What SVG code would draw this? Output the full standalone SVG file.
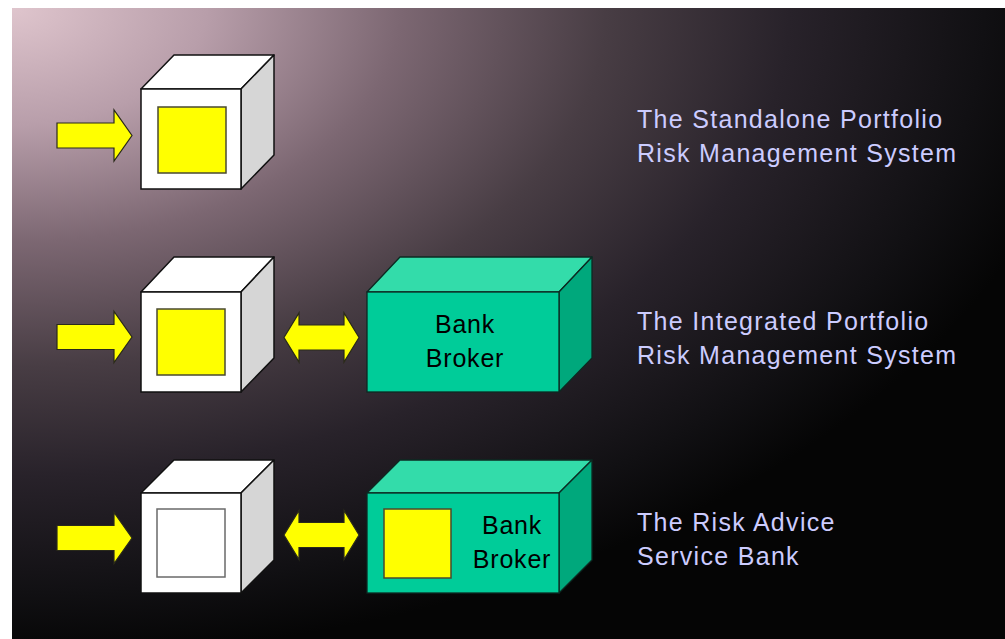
<svg xmlns="http://www.w3.org/2000/svg" width="1005" height="639" viewBox="0 0 1005 639">
  <defs>
    <radialGradient id="bgGrad" gradientUnits="userSpaceOnUse" cx="0" cy="0" r="1" fx="0" fy="0" gradientTransform="translate(12 8) scale(1080 650)">
      <stop offset="0" stop-color="#dfc5cd"/>
      <stop offset="0.18" stop-color="#b89eaa"/>
      <stop offset="0.36" stop-color="#7c6772"/>
      <stop offset="0.55" stop-color="#483d44"/>
      <stop offset="0.72" stop-color="#28222a"/>
      <stop offset="0.9" stop-color="#111013"/>
      <stop offset="1" stop-color="#050505"/>
    </radialGradient>
    <!-- single-headed input arrow, centred vertically on y=0 -->
    <path id="arrowIn" d="M57,-12.5 H114 V-25.5 L132,0 L114,25.5 V12.5 H57 Z"/>
    <!-- double-headed link arrow, centred vertically on y=0 -->
    <path id="arrowBoth" d="M284,0 L299,-24.5 V-12.5 H344 V-24.5 L359,0 L344,24.5 V12.5 H299 V24.5 Z"/>
  </defs>
  <style>
    .arrow { fill: #ffff00; stroke: #2a2a1a; stroke-width: 1.2; stroke-linejoin: miter; }
    .cube-front { fill: #ffffff; stroke: #111111; stroke-width: 1.5; }
    .cube-top { fill: #ffffff; stroke: #111111; stroke-width: 1.5; stroke-linejoin: round; }
    .cube-side { fill: #d6d6d6; stroke: #111111; stroke-width: 1.5; stroke-linejoin: round; }
    .core { fill: #ffff00; stroke: #4a4a30; stroke-width: 1.5; }
    .core-empty { fill: #ffffff; stroke: #6a6a6a; stroke-width: 1.5; }
    .box-front { fill: #00cc99; stroke: #0c2a22; stroke-width: 1.3; }
    .box-top { fill: #33dcaa; stroke: #0c2a22; stroke-width: 1.3; stroke-linejoin: round; }
    .box-side { fill: #00a87c; stroke: #0c2a22; stroke-width: 1.3; stroke-linejoin: round; }
    .box-label { font-family: "Liberation Sans", Arial, sans-serif; font-size: 25px; fill: #000000; text-anchor: middle; letter-spacing: 0.8px; }
    .caption { font-family: "Liberation Sans", Arial, sans-serif; font-size: 25px; fill: #ccccff; letter-spacing: 1.3px; }
  </style>

  <!-- backdrop -->
  <rect x="0" y="0" width="1005" height="639" fill="#ffffff"/>
  <rect x="12" y="8" width="993" height="631" fill="url(#bgGrad)"/>

  <!-- row 1: standalone system -->
  <g id="cube-standalone">
    <polygon class="cube-top" points="141,89 174,55 274,55 241,89"/>
    <polygon class="cube-side" points="241,89 274,55 274,155 241,189"/>
    <rect class="cube-front" x="141" y="89" width="100" height="100"/>
    <rect class="core" x="158" y="107" width="68" height="66"/>
  </g>

  <!-- row 2: integrated system -->
  <g id="cube-integrated">
    <polygon class="cube-top" points="141,292 174,257 274,257 241,292"/>
    <polygon class="cube-side" points="241,292 274,257 274,358 241,392"/>
    <rect class="cube-front" x="141" y="292" width="100" height="100"/>
    <rect class="core" x="157" y="309" width="68" height="66"/>
  </g>
  <g id="bank-broker-integrated">
    <polygon class="box-top" points="367,292 400,257 592,257 559,292"/>
    <polygon class="box-side" points="559,292 592,257 592,358 559,392"/>
    <rect class="box-front" x="367" y="292" width="192" height="100"/>
    <text class="box-label" x="465" y="333">Bank</text>
    <text class="box-label" x="465" y="367">Broker</text>
  </g>

  <!-- row 3: risk advice service -->
  <g id="cube-advice">
    <polygon class="cube-top" points="141,493 174,460 274,460 241,493"/>
    <polygon class="cube-side" points="241,493 274,460 274,560 241,593"/>
    <rect class="cube-front" x="141" y="493" width="100" height="100"/>
    <rect class="core-empty" x="157" y="509" width="68" height="68"/>
  </g>
  <g id="bank-broker-advice">
    <polygon class="box-top" points="367,493 400,460 592,460 559,493"/>
    <polygon class="box-side" points="559,493 592,460 592,560 559,593"/>
    <rect class="box-front" x="367" y="493" width="192" height="100"/>
    <rect class="core" x="384" y="509" width="67" height="69"/>
    <text class="box-label" x="512" y="534">Bank</text>
    <text class="box-label" x="512" y="568">Broker</text>
  </g>

  <!-- arrows -->
  <g id="connectors">
    <use href="#arrowIn" class="arrow" transform="translate(0 135.5)"/>
    <use href="#arrowIn" class="arrow" transform="translate(0 337)"/>
    <use href="#arrowIn" class="arrow" transform="translate(0 538)"/>
    <use href="#arrowBoth" class="arrow" transform="translate(0 337.5)"/>
    <use href="#arrowBoth" class="arrow" transform="translate(0 535)"/>
  </g>

  <!-- captions -->
  <g id="caption-standalone">
    <text class="caption" x="637" y="128">The Standalone Portfolio</text>
    <text class="caption" x="637" y="162">Risk Management System</text>
  </g>
  <g id="caption-integrated">
    <text class="caption" x="637" y="330">The Integrated Portfolio</text>
    <text class="caption" x="637" y="364">Risk Management System</text>
  </g>
  <g id="caption-advice">
    <text class="caption" x="637" y="531">The Risk Advice</text>
    <text class="caption" x="637" y="565">Service Bank</text>
  </g>
</svg>
